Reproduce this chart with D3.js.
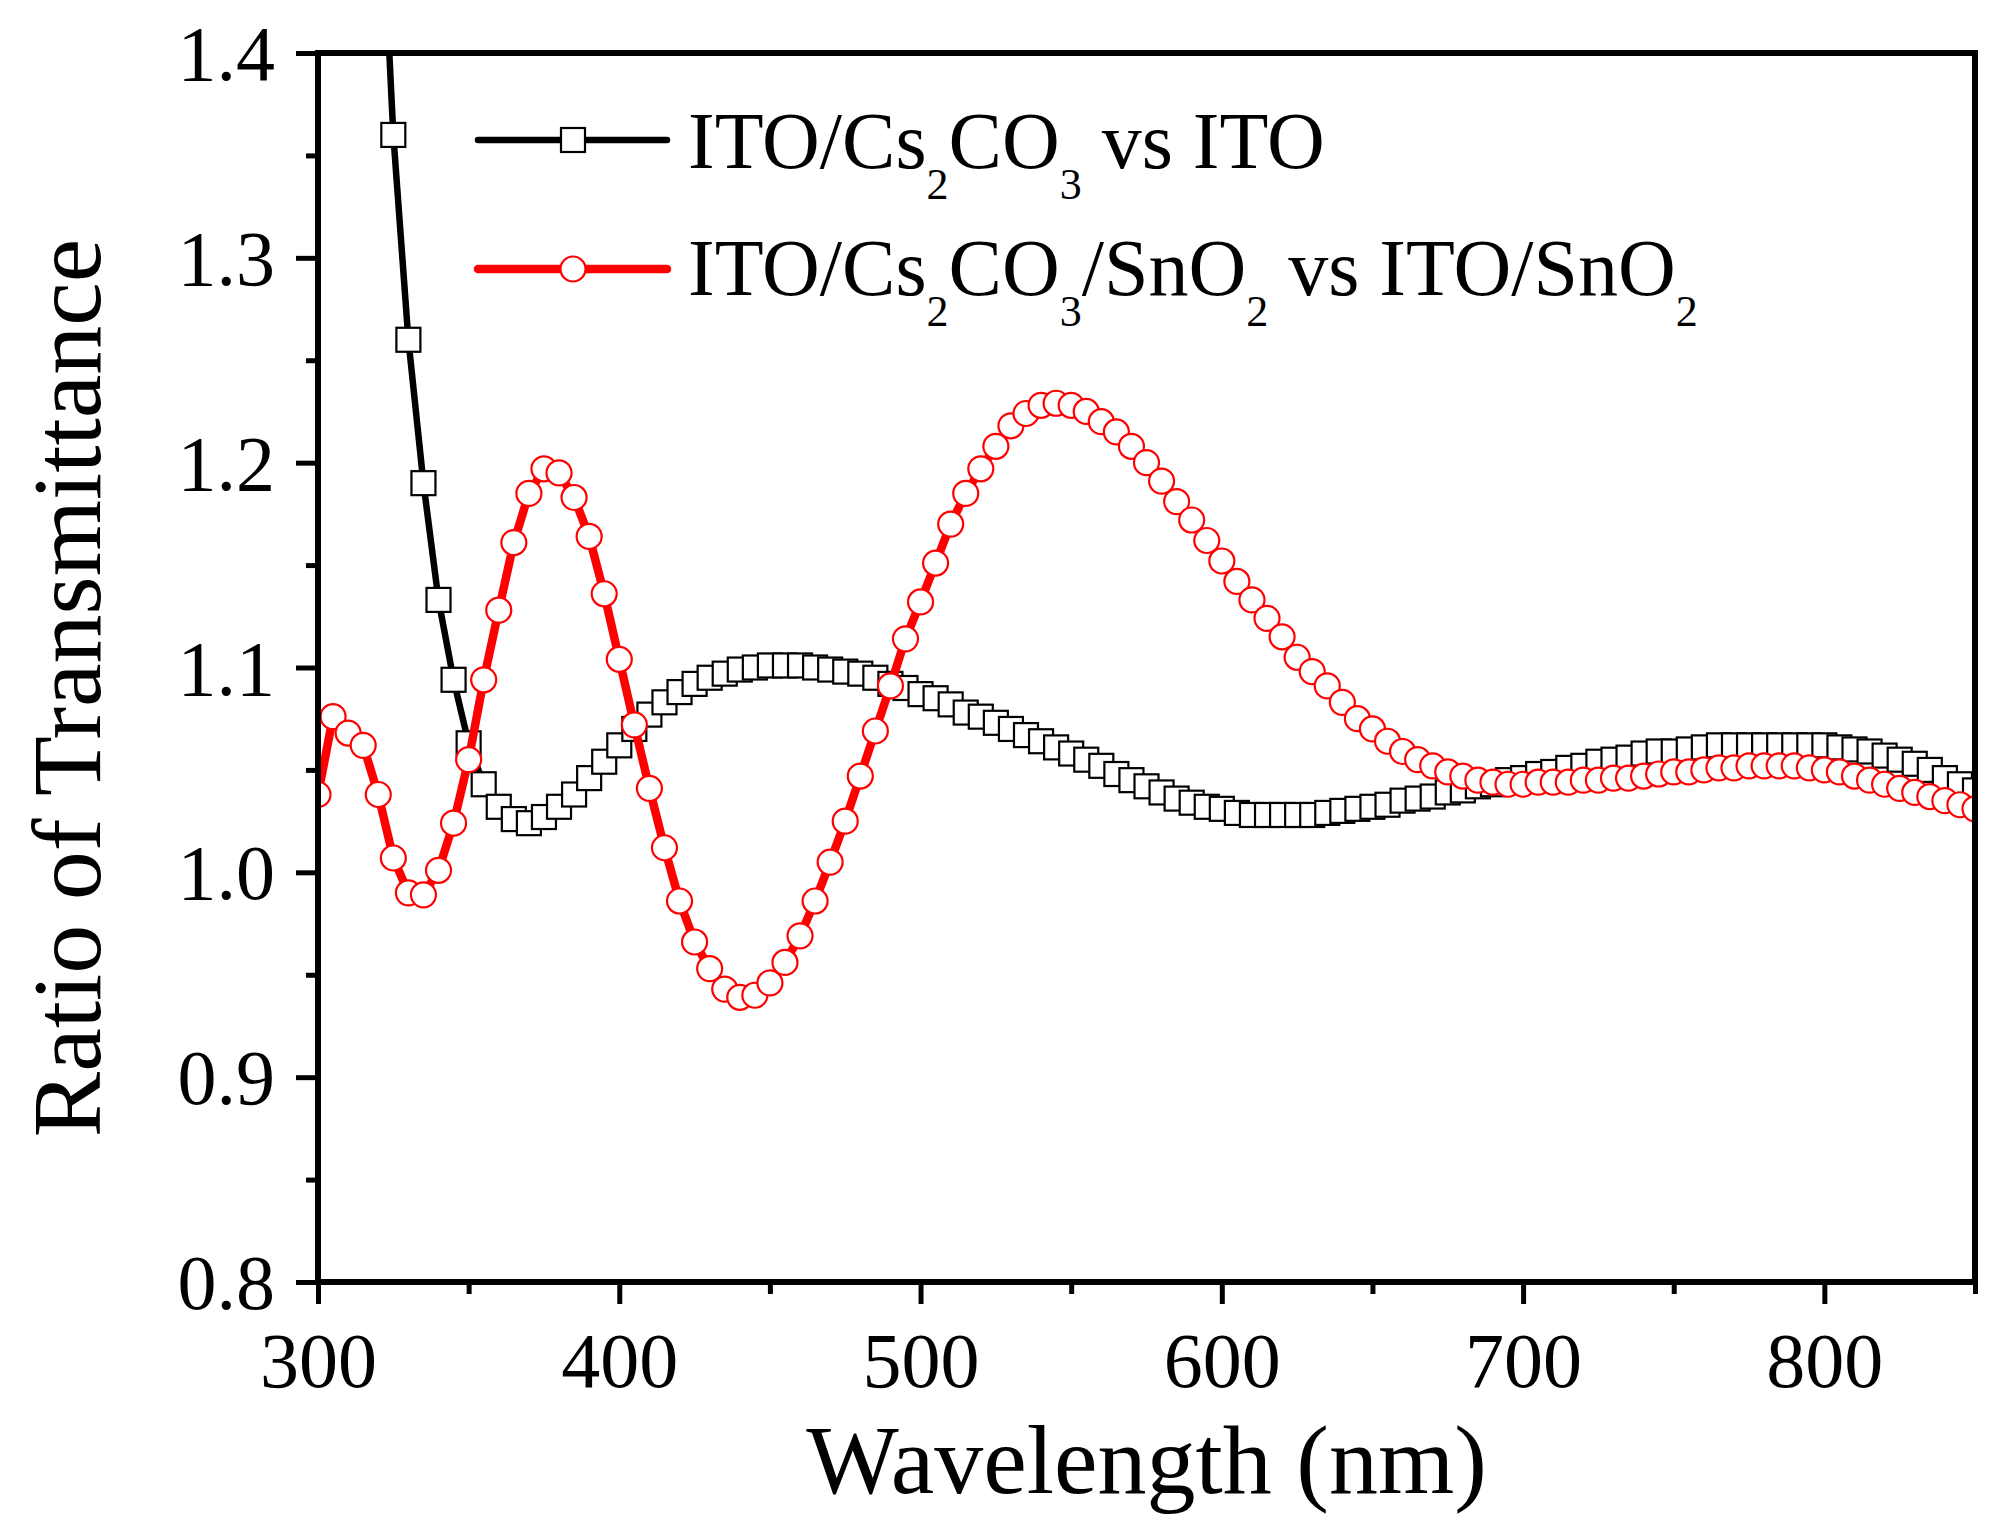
<!DOCTYPE html>
<html>
<head>
<meta charset="utf-8">
<script src="https://cdn.jsdelivr.net/npm/d3@7"></script>
<style>
    body { margin: 0; background: #fff; }
    svg { display: block; }
    text { font-family: "Liberation Serif", "Times New Roman", serif; fill: #000; }
</style>
</head>
<body>
<svg id="chart" width="1991" height="1534"></svg>
<script>
// x grid, 5 nm steps
var wavelengths = d3.range(300, 851, 5);

// ITO/Cs2CO3 vs ITO (first points are above the top of the axis)
var ratioCs = [
    2.40, 2.10, 1.86, 1.67, 1.51, 1.36, 1.26, 1.19, 1.133, 1.094,
    1.063, 1.043, 1.032, 1.026, 1.024, 1.027, 1.032, 1.038, 1.046, 1.054,
    1.062, 1.070, 1.077, 1.083, 1.088, 1.092, 1.095, 1.097, 1.099, 1.100,
    1.101, 1.101, 1.101, 1.100, 1.099, 1.098, 1.097, 1.095, 1.092, 1.090,
    1.087, 1.085, 1.082, 1.078, 1.076, 1.073, 1.070, 1.067, 1.064, 1.061,
    1.058, 1.055, 1.052, 1.048, 1.045, 1.042, 1.039, 1.036, 1.034, 1.032,
    1.031, 1.029, 1.028, 1.028, 1.028, 1.028, 1.028, 1.029, 1.030, 1.031,
    1.032, 1.033, 1.035, 1.036, 1.037, 1.039, 1.040, 1.042, 1.043, 1.045,
    1.046, 1.048, 1.049, 1.051, 1.052, 1.054, 1.055, 1.056, 1.058, 1.059,
    1.059, 1.060, 1.061, 1.062, 1.062, 1.062, 1.062, 1.062, 1.062, 1.062,
    1.062, 1.061, 1.060, 1.059, 1.057, 1.055, 1.053, 1.050, 1.046, 1.043, 1.040
];

// ITO/Cs2CO3/SnO2 vs ITO/SnO2
var ratioCsSn = [
    1.038, 1.076, 1.068, 1.062, 1.038, 1.007, 0.990, 0.989, 1.001, 1.024,
    1.055, 1.094, 1.128, 1.161, 1.185, 1.197, 1.195, 1.183, 1.164, 1.136,
    1.104, 1.072, 1.041, 1.012, 0.986, 0.966, 0.953, 0.943, 0.939, 0.940,
    0.946, 0.956, 0.969, 0.986, 1.005, 1.025, 1.047, 1.069, 1.091, 1.114,
    1.132, 1.151, 1.170, 1.185, 1.197, 1.208, 1.218, 1.224, 1.228, 1.229,
    1.228, 1.225, 1.220, 1.215, 1.208, 1.200, 1.191, 1.181, 1.172, 1.162,
    1.152, 1.142, 1.133, 1.124, 1.115, 1.105, 1.098, 1.091, 1.083, 1.075,
    1.070, 1.064, 1.059, 1.055, 1.052, 1.049, 1.047, 1.045, 1.044, 1.043,
    1.043, 1.044, 1.044, 1.044, 1.045, 1.045, 1.046, 1.046, 1.047, 1.048,
    1.049, 1.049, 1.050, 1.051, 1.051, 1.052, 1.052, 1.052, 1.052, 1.051,
    1.050, 1.049, 1.047, 1.045, 1.043, 1.041, 1.039, 1.037, 1.035, 1.033, 1.031
];

var xMajorTicks = [300, 400, 500, 600, 700, 800];
var xMinorTicks = [350, 450, 550, 650, 750, 850];
var yMajorTicks = [0.8, 0.9, 1.0, 1.1, 1.2, 1.3, 1.4];
var yMinorTicks = [0.85, 0.95, 1.05, 1.15, 1.25, 1.35];

// legend labels: [text, isSubscript]
var legendCs = [["ITO/Cs", 0], ["2", 1], ["CO", 0], ["3", 1], [" vs ITO", 0]];
var legendCsSn = [["ITO/Cs", 0], ["2", 1], ["CO", 0], ["3", 1], ["/SnO", 0], ["2", 1],
                  [" vs ITO/SnO", 0], ["2", 1]];

//////////////////////////// LAYOUT ////////////////////////////
// (no global "top": it clashes with window.top)
var plotLeft = 318, plotRight = 1975, plotTop = 53, plotBottom = 1282;
var frameWidth = 6;
var majorTick = 22, minorTick = 12;

var svg = d3.select("#chart");

var x = d3.scaleLinear().domain([300, 850]).range([plotLeft, plotRight]);
var y = d3.scaleLinear().domain([0.8, 1.4]).range([plotBottom, plotTop]);

var seriesCs = wavelengths.map(function(w, i) { return {x: w, y: ratioCs[i]}; });
var seriesCsSn = wavelengths.map(function(w, i) { return {x: w, y: ratioCsSn[i]}; });

svg.append("defs").append("clipPath").attr("id", "plot-clip")
    .append("rect")
    .attr("x", plotLeft).attr("y", plotTop)
    .attr("width", plotRight - plotLeft).attr("height", plotBottom - plotTop);

var line = d3.line()
    .x(function(d) { return x(d.x); })
    .y(function(d) { return y(d.y); });

//////////////////////////// SERIES ////////////////////////////
var plot = svg.append("g").attr("clip-path", "url(#plot-clip)");

var squareSize = 24, circleR = 12.5;
var blackWidth = 6.5, redWidth = 8.5;

var drawSquares = function(g, data, color) {
    g.selectAll("rect.m").data(data).enter().append("rect")
        .attr("class", "m")
        .attr("x", function(d) { return x(d.x) - squareSize / 2; })
        .attr("y", function(d) { return y(d.y) - squareSize / 2; })
        .attr("width", squareSize).attr("height", squareSize)
        .attr("fill", "#fff").attr("stroke", color).attr("stroke-width", 2.2);
};

var drawCircles = function(g, data, color) {
    g.selectAll("circle.m").data(data).enter().append("circle")
        .attr("class", "m")
        .attr("cx", function(d) { return x(d.x); })
        .attr("cy", function(d) { return y(d.y); })
        .attr("r", circleR)
        .attr("fill", "#fff").attr("stroke", color).attr("stroke-width", 2.2);
};

var gCs = plot.append("g");
gCs.append("path").datum(seriesCs)
    .attr("d", line).attr("fill", "none")
    .attr("stroke", "#000").attr("stroke-width", blackWidth);
drawSquares(gCs, seriesCs, "#000");

var gCsSn = plot.append("g");
gCsSn.append("path").datum(seriesCsSn)
    .attr("d", line).attr("fill", "none")
    .attr("stroke", "#ff0000").attr("stroke-width", redWidth);
drawCircles(gCsSn, seriesCsSn, "#ff0000");

//////////////////////////// AXES ////////////////////////////
var tickFont = 78;

var xAxisMajor = svg.append("g").attr("transform", "translate(0," + plotBottom + ")")
    .call(d3.axisBottom(x).tickValues(xMajorTicks).tickSize(majorTick).tickFormat(d3.format("d")));
var xAxisMinor = svg.append("g").attr("transform", "translate(0," + plotBottom + ")")
    .call(d3.axisBottom(x).tickValues(xMinorTicks).tickSize(minorTick).tickFormat(""));
var yAxisMajor = svg.append("g").attr("transform", "translate(" + plotLeft + ",0)")
    .call(d3.axisLeft(y).tickValues(yMajorTicks).tickSize(majorTick).tickFormat(d3.format(".1f")));
var yAxisMinor = svg.append("g").attr("transform", "translate(" + plotLeft + ",0)")
    .call(d3.axisLeft(y).tickValues(yMinorTicks).tickSize(minorTick).tickFormat(""));

[xAxisMajor, xAxisMinor, yAxisMajor, yAxisMinor].forEach(function(a) {
    a.select(".domain").remove();
    a.selectAll(".tick line").attr("stroke", "#000").attr("stroke-width", 5);
    a.selectAll("text").attr("font-family", null).attr("font-size", tickFont);
});

xAxisMajor.selectAll(".tick text").attr("y", 105).attr("dy", 0);
yAxisMajor.selectAll(".tick text").attr("x", -43).attr("dy", "0.34em");

// frame
svg.append("rect")
    .attr("x", plotLeft).attr("y", plotTop)
    .attr("width", plotRight - plotLeft).attr("height", plotBottom - plotTop)
    .attr("fill", "none").attr("stroke", "#000").attr("stroke-width", frameWidth);

// titles
svg.append("text")
    .attr("x", (plotLeft + plotRight) / 2).attr("y", 1493)
    .attr("text-anchor", "middle").attr("font-size", 98)
    .text("Wavelength (nm)");

svg.append("text")
    .attr("transform", "translate(100,688) rotate(-90)")
    .attr("text-anchor", "middle").attr("font-size", 98)
    .text("Ratio of Transmittance");

//////////////////////////// LEGEND ////////////////////////////
var legendFont = 80, subFont = 44, subShift = 31;

var drawLegendText = function(parts, tx, ty) {
    var t = svg.append("text").attr("x", tx).attr("y", ty).attr("font-size", legendFont);
    var shifted = false;
    parts.forEach(function(p) {
        var span = t.append("tspan").text(p[0]).style("white-space", "pre");
        if (p[1] && !shifted) { span.attr("dy", subShift).attr("font-size", subFont); shifted = true; }
        else if (p[1]) { span.attr("font-size", subFont); }
        else if (shifted) { span.attr("dy", -subShift); shifted = false; }
    });
};

var legend = svg.append("g");
legend.append("line").attr("x1", 478).attr("x2", 667).attr("y1", 140).attr("y2", 140)
    .attr("stroke", "#000").attr("stroke-width", blackWidth).attr("stroke-linecap", "round");
drawSquares(legend.append("g"), [{x: x.invert(573), y: y.invert(140)}], "#000");
drawLegendText(legendCs, 688, 168);

legend.append("line").attr("x1", 478).attr("x2", 667).attr("y1", 269).attr("y2", 269)
    .attr("stroke", "#ff0000").attr("stroke-width", redWidth).attr("stroke-linecap", "round");
drawCircles(legend.append("g"), [{x: x.invert(573), y: y.invert(269)}], "#ff0000");
drawLegendText(legendCsSn, 688, 295);
</script>
</body>
</html>
